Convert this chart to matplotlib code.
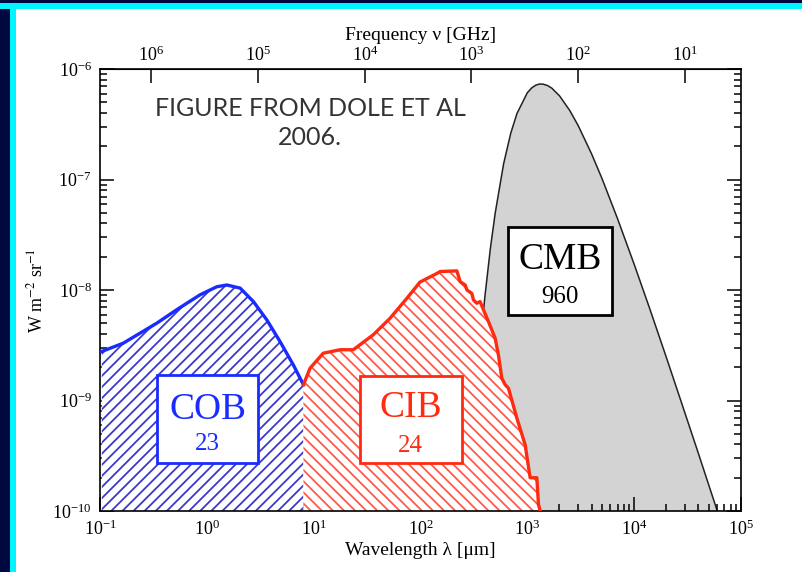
import numpy as np
import matplotlib
matplotlib.use("Agg")
import matplotlib.pyplot as plt
from matplotlib.patches import Rectangle
from matplotlib.ticker import NullLocator, LogLocator

plt.rcParams['font.family'] = ['Liberation Serif', 'DejaVu Serif']
plt.rcParams['mathtext.fontset'] = 'stix'
plt.rcParams['axes.unicode_minus'] = False
plt.rcParams['hatch.linewidth'] = 1.3

# Cosmic optical background (wavelength in micron, nu I_nu in W m^-2 sr^-1)
cob_lam = [0.104, 0.165, 0.34, 0.52, 0.863, 1.24, 1.54, 2.05, 2.73, 3.64, 4.84, 6.45, 8.02]
cob_val = [2.78e-9, 3.30e-9, 5.01e-9, 6.61e-9, 9.04e-9, 1.07e-8, 1.11e-8, 1.04e-8,
           7.85e-9, 5.37e-9, 3.42e-9, 2.10e-9, 1.39e-9]

# Cosmic infrared background
cib_lam = [8.02, 9.25, 12.3, 17.7, 23.5, 36.2, 51.9, 74.5, 99, 142, 153, 219, 235, 262,
           272, 302, 313, 336, 361, 383, 432, 500, 536, 577, 620, 666, 798, 954, 1062,
           1227, 1271, 1318]
cib_val = [1.39e-9, 1.96e-9, 2.68e-9, 2.88e-9, 2.88e-9, 3.94e-9, 5.55e-9, 8.41e-9,
           1.18e-8, 1.41e-8, 1.47e-8, 1.49e-8, 1.19e-8, 1.11e-8, 1.00e-8, 9.33e-9,
           8.14e-9, 7.59e-9, 7.85e-9, 6.84e-9, 5.19e-9, 3.66e-9, 2.59e-9, 1.59e-9,
           1.39e-9, 1.29e-9, 6.93e-10, 3.98e-10, 2.0e-10, 2.0e-10, 1.15e-10, 1.0e-10]

# Cosmic microwave background
cmb_lam = [280, 300, 330, 360, 400, 450, 500, 600, 700, 800, 1000, 1100, 1200, 1300,
           1400, 1550, 1700, 2000, 2500, 3000, 4000, 5000, 7000, 10000, 14000, 20000,
           28000, 40000, 60000]
cmb_val = [1.25e-10, 3.3e-10, 1.13e-9, 3.03e-9, 8.6e-9, 2.34e-8, 4.95e-8, 1.39e-7,
           2.63e-7, 3.96e-7, 6.10e-7, 6.75e-7, 7.14e-7, 7.31e-7, 7.30e-7, 7.08e-7,
           6.69e-7, 5.72e-7, 4.20e-7, 3.06e-7, 1.70e-7, 1.02e-7, 4.4e-8, 1.71e-8,
           6.76e-9, 2.46e-9, 9.3e-10, 3.3e-10, 1.0e-10]

# integrated intensities in nW m^-2 sr^-1
labels = ['COB', 'CIB', 'CMB']
totals = ['23', '24', '960']

ymin = 1e-10
blue = '#1a2bff'
red = '#ff2a10'

fig = plt.figure(figsize=(8.02, 5.72), dpi=100)
ax = fig.add_axes([100 / 802, 61 / 572, 641 / 802, 442 / 572])
ax.set_xscale('log')
ax.set_yscale('log')
ax.set_xlim(0.1, 1e5)
ax.set_ylim(ymin, 1e-6)

# CMB: grey filled blackbody
ax.fill_between(cmb_lam, cmb_val, ymin, facecolor='#d3d3d3', edgecolor='none', zorder=1)
ax.plot(cmb_lam, cmb_val, color='#222222', lw=1.1, zorder=1.5)

# COB and CIB: hatched on white
ax.fill_between(cob_lam, cob_val, ymin, facecolor='white', edgecolor='#3a3acc',
                hatch='///', linewidth=0, zorder=2)
ax.fill_between(cib_lam, cib_val, ymin, facecolor='white', edgecolor='#ff5a4a',
                hatch='\\\\\\', linewidth=0, zorder=2)
ax.plot(cob_lam, cob_val, color=blue, lw=2.4, zorder=3, solid_joinstyle='round')
ax.plot(cib_lam, cib_val, color=red, lw=2.4, zorder=3, solid_joinstyle='round')

# labelled boxes
boxes = [(0.0885, 0.108, 0.1585, 0.200, blue, 0.229, 0.152),
         (0.4056, 0.108, 0.1587, 0.197, red, 0.233, 0.148),
         (0.637, 0.443, 0.161, 0.200, 'black', 0.568, 0.484)]
for name, tot, (x0, y0, w, h, c, ty1, ty2) in zip(labels, totals, boxes):
    ax.add_patch(Rectangle((x0, y0), w, h, transform=ax.transAxes, facecolor='white',
                           edgecolor=c, lw=2, zorder=4))
    ax.text(x0 + w / 2, ty1, name, transform=ax.transAxes, ha='center', va='center',
            fontsize=27, color=c, zorder=5)
    ax.text(x0 + w / 2, ty2, tot, transform=ax.transAxes, ha='center', va='center',
            fontsize=18, color=c, zorder=5)

for sp in ax.spines.values():
    sp.set_linewidth(1.2)
ax.tick_params(which='both', direction='in', top=False, right=True, labelsize=13,
               width=1.1)
ax.tick_params(which='major', length=10, pad=6)
ax.tick_params(which='minor', length=5)
ax.xaxis.set_major_locator(LogLocator(base=10, numticks=10))
ax.yaxis.set_major_locator(LogLocator(base=10, numticks=10))
ax.set_xlabel('Wavelength λ [μm]', fontsize=14, labelpad=2)
ax.set_ylabel('W m$^{-2}$ sr$^{-1}$', fontsize=13, labelpad=4)

# frequency axis on top: nu [GHz] = 3e5 / lambda [micron]
conv = lambda v: 3e5 / np.asarray(v, dtype=float)
sec = ax.secondary_xaxis('top', functions=(conv, conv))
sec.set_xticks([1e6, 1e5, 1e4, 1e3, 1e2, 1e1])
sec.xaxis.set_minor_locator(NullLocator())
sec.tick_params(direction='in', length=10, width=1.1, labelsize=13, pad=3)
sec.set_xlabel('Frequency ν [GHz]', fontsize=14, labelpad=4)

fig.text(310 / 802, 1 - 123 / 572, 'FIGURE FROM DOLE ET AL\n2006.', ha='center',
         va='center', fontsize=18, family=['Lato', 'DejaVu Sans'],
         color='#333333', linespacing=1.3)

# slide border strips
fig.patches.append(Rectangle((0, 0), 10 / 802, 1, transform=fig.transFigure,
                             facecolor='#000840', edgecolor='none'))
fig.patches.append(Rectangle((10 / 802, 0), 6 / 802, 1, transform=fig.transFigure,
                             facecolor='#00f5ff', edgecolor='none'))
fig.patches.append(Rectangle((0, 1 - 9 / 572), 1, 6 / 572, transform=fig.transFigure,
                             facecolor='#00f5ff', edgecolor='none'))
fig.patches.append(Rectangle((0, 1 - 3 / 572), 1, 3 / 572, transform=fig.transFigure,
                             facecolor='#000840', edgecolor='none'))

fig.savefig('out.png', dpi=100)
